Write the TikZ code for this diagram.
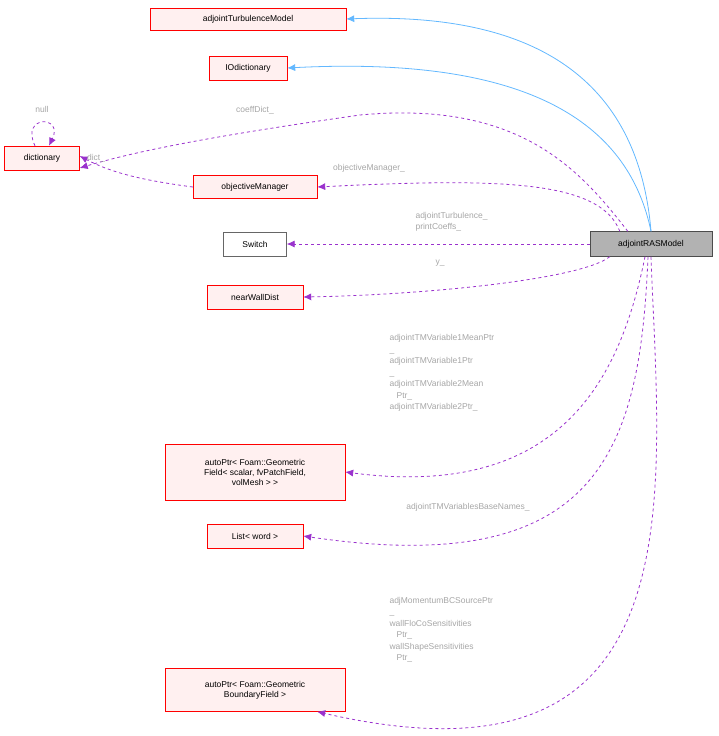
\documentclass[tikz,border=0pt]{standalone}
\usepackage{fontspec}
\setmainfont{Liberation Sans}
\usetikzlibrary{arrows.meta}
\definecolor{inhc}{HTML}{63B8FF}
\definecolor{usec}{HTML}{9A32CD}
\begin{document}
\begin{tikzpicture}[x=1pt,y=-1pt,
 box/.style={draw=red,fill=red!6,font=\fontsize{8.5}{10}\selectfont,inner sep=3pt,align=center},
 lbl/.style={text=gray!70,font=\fontsize{8.5}{11.5}\selectfont,align=left},
 inh/.style={draw=inhc,-{Latex[length=8pt,width=7pt]},line width=0.8pt},
 use/.style={draw=usec,dashed,-{Latex[length=8pt,width=7pt]},line width=0.8pt}]
\useasboundingbox (0,0) rectangle (718,736);
\node[box,minimum width=196pt,minimum height=22pt] (atm) at (248,19) {adjointTurbulenceModel};
\node[box,minimum width=78pt,minimum height=24pt] (iod) at (248,68) {IOdictionary};
\node[box,minimum width=75pt,minimum height=24pt] (dic) at (42,158) {dictionary};
\node[box,minimum width=124pt,minimum height=23pt] (om) at (255,187) {objectiveManager};
\node[box,draw=gray!80!black,fill=white,minimum width=63pt,minimum height=24pt] (sw) at (255,244) {Switch};
\node[box,minimum width=96pt,minimum height=24pt] (nwd) at (255,297) {nearWallDist};
\node[box,minimum width=180pt,minimum height=56pt] (ap1) at (255,472) {autoPtr< Foam::Geometric\\Field< scalar, fvPatchField,\\volMesh > >};
\node[box,minimum width=96pt,minimum height=24pt] (lw) at (255,536) {List< word >};
\node[box,minimum width=180pt,minimum height=43pt] (ap2) at (255,690) {autoPtr< Foam::Geometric\\BoundaryField >};
\node[box,draw=black!70,fill=gray!60,minimum width=122pt,minimum height=25pt] (ras) at (651,244) {adjointRASModel};

\draw[inh] (ras.north) .. controls (640,100) and (560,11) .. (atm.east);
\draw[inh] (ras.north) .. controls (630,130) and (540,55) .. (iod.east);
\draw[use] ([xshift=38pt]ras.north west) .. controls (580,170) and (520,100) .. (360,115) .. controls (220,135) and (140,150) .. ([yshift=-10pt]dic.east);
\draw[use] ([xshift=-7pt]dic.north) .. controls (20,115) and (64,115) .. ([xshift=7pt]dic.north);
\draw[use] (om.west) .. controls (140,180) and (110,172) .. ([yshift=2pt]dic.east);
\draw[use] ([xshift=30pt]ras.north west) .. controls (600,180) and (500,178) .. (om.east);
\draw[use] (ras.west) -- (sw.east);
\draw[use] ([xshift=20pt]ras.south west) .. controls (580,280) and (420,295) .. (nwd.east);
\draw[use] ([xshift=-6pt]ras.south) .. controls (620,380) and (560,500) .. (ap1.east);
\draw[use] ([xshift=-3pt]ras.south) .. controls (640,450) and (600,580) .. (lw.east);
\draw[use] (ras.south) .. controls (660,500) and (700,800) .. ([xshift=-28pt]ap2.south east);

\node[lbl] at (42,109) {null};
\node[lbl] at (255,110) {coeffDict\_};
\node[lbl] at (96,158) {dict\_};
\node[lbl] at (369,168) {objectiveManager\_};
\node[lbl,anchor=west] at (412,222) {adjointTurbulence\_\\printCoeffs\_};
\node[lbl] at (440,263) {y\_};
\node[lbl,anchor=west] at (386,373) {adjointTMVariable1MeanPtr\\\_\\adjointTMVariable1Ptr\\\_\\adjointTMVariable2Mean\\\ \ \ Ptr\_\\adjointTMVariable2Ptr\_};
\node[lbl] at (468,507) {adjointTMVariablesBaseNames\_};
\node[lbl,anchor=west] at (386,630) {adjMomentumBCSourcePtr\\\_\\wallFloCoSensitivities\\\ \ \ Ptr\_\\wallShapeSensitivities\\\ \ \ Ptr\_};
\end{tikzpicture}
\end{document}
